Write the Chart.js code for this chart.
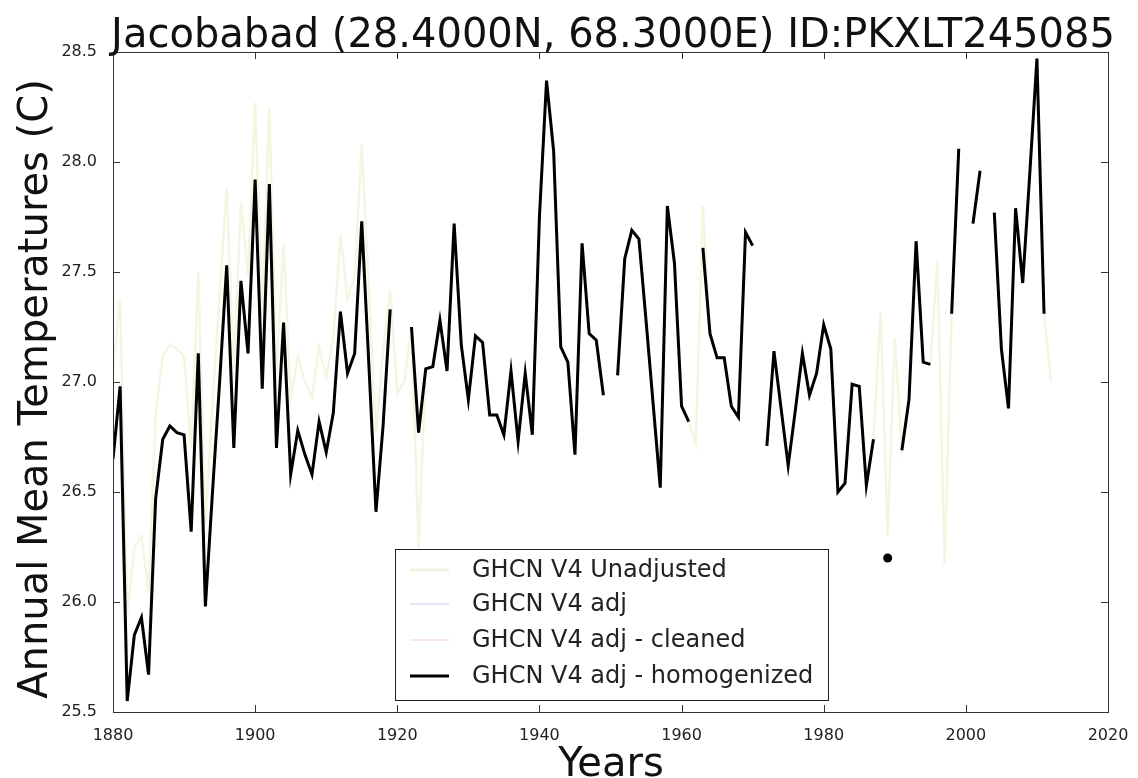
<!DOCTYPE html>
<html>
<head>
<meta charset="utf-8">
<script src="https://cdn.jsdelivr.net/npm/chart.js@4.4.1/dist/chart.umd.min.js"></script>
<style>
html,body{margin:0;padding:0;background:#fff;}
#c{display:block;}
</style>
</head>
<body>
<canvas id="c" width="1138" height="778"></canvas>
<script>
// ---- data ----
const years = [
 1880,1881,1882,1883,1884,1885,1886,1887,1888,1889,
 1890,1891,1892,1893,1894,1895,1896,1897,1898,1899,
 1900,1901,1902,1903,1904,1905,1906,1907,1908,1909,
 1910,1911,1912,1913,1914,1915,1916,1917,1918,1919,
 1920,1921,1922,1923,1924,1925,1926,1927,1928,1929,
 1930,1931,1932,1933,1934,1935,1936,1937,1938,1939,
 1940,1941,1942,1943,1944,1945,1946,1947,1948,1949,
 1950,1951,1952,1953,1954,1955,1956,1957,1958,1959,
 1960,1961,1962,1963,1964,1965,1966,1967,1968,1969,
 1970,1971,1972,1973,1974,1975,1976,1977,1978,1979,
 1980,1981,1982,1983,1984,1985,1986,1987,1988,1989,
 1990,1991,1992,1993,1994,1995,1996,1997,1998,1999,
 2000,2001,2002,2003,2004,2005,2006,2007,2008,2009,
 2010,2011,2012
];

const homogenized = [
 26.65,26.98,25.55,25.85,25.93,25.67,26.47,26.74,26.80,26.77,
 26.76,26.32,27.13,25.98,26.50,27.00,27.53,26.70,27.46,27.13,
 27.92,26.97,27.90,26.70,27.27,26.58,26.78,26.67,26.58,26.82,
 26.68,26.86,27.32,27.04,27.13,27.73,27.08,26.41,26.80,27.33,
 null,null,27.25,26.77,27.06,27.07,27.28,27.05,27.72,27.17,
 26.92,27.21,27.18,26.85,26.85,26.76,27.05,26.73,27.04,26.76,
 27.75,28.37,28.05,27.16,27.09,26.67,27.63,27.22,27.19,26.94,
 null,27.03,27.56,27.69,27.65,27.28,26.90,26.52,27.80,27.54,
 26.89,26.82,null,27.61,27.22,27.11,27.11,26.89,26.84,27.68,
 27.62,null,26.71,27.14,26.88,26.62,26.87,27.13,26.94,27.04,
 27.26,27.15,26.50,26.54,26.99,26.98,26.53,26.74,null,26.20,
 null,26.69,26.92,27.64,27.09,27.08,null,null,27.31,28.06,
 null,27.72,27.96,null,27.77,27.15,26.88,27.79,27.45,27.95,
 28.47,27.31,null
];

const unadjusted = [
 27.05,27.38,25.95,26.25,26.30,26.05,26.85,27.12,27.17,27.15,
 27.12,26.70,27.50,26.35,26.90,27.40,27.88,27.06,27.82,27.48,
 28.27,27.32,28.25,27.04,27.63,26.92,27.12,27.00,26.93,27.16,
 27.02,27.20,27.67,27.38,27.48,28.08,27.42,26.77,27.15,27.42,
 26.95,27.00,27.25,26.25,27.06,27.07,27.28,27.05,27.72,27.17,
 26.92,27.21,27.18,26.85,26.85,26.76,27.05,26.73,27.04,26.76,
 27.75,28.37,28.05,27.16,27.09,26.67,27.63,27.22,27.19,26.94,
 null,27.03,27.56,27.69,27.65,27.28,26.90,26.52,27.80,27.54,
 26.89,26.82,26.72,27.80,27.22,27.11,27.11,26.89,26.84,27.68,
 27.62,null,26.71,27.14,26.88,26.62,26.87,27.13,26.94,27.04,
 27.26,27.15,26.50,26.54,26.99,26.98,26.53,26.74,27.32,26.30,
 27.20,26.69,26.92,27.64,27.09,27.08,27.55,26.17,27.31,28.06,
 null,27.72,27.96,null,27.77,27.15,26.88,27.79,27.45,27.95,
 28.47,27.31,27.00
];

// adj and cleaned series lie under the homogenized line in the picture
const adjusted = homogenized.slice();
const cleaned = homogenized.slice();

const seriesLabels = ['GHCN V4 Unadjusted','GHCN V4 adj','GHCN V4 adj - cleaned','GHCN V4 adj - homogenized'];
const xTicks = [1880,1900,1920,1940,1960,1980,2000,2020];
const yTicks = [25.5,26.0,26.5,27.0,27.5,28.0,28.5];
const titleText = 'Jacobabad (28.4000N, 68.3000E) ID:PKXLT245085';
const xTitle = 'Years';
const yTitle = 'Annual Mean Temperatures (C)';

// ---- build chart ----
const pts = vals => years.map((yr,i)=>({x:yr,y:vals[i]}));
const FONT = "'DejaVu Sans', sans-serif";

function isolatedRadius(ctx){
  const d = ctx.dataset.data, i = ctx.dataIndex;
  if (d[i].y == null) return 0;
  const prev = i>0 ? d[i-1].y : null, next = i<d.length-1 ? d[i+1].y : null;
  return (prev==null && next==null) ? 4.5 : 0;
}

const framePlugin = {
  id:'frame',
  afterDraw(chart){
    const {ctx, chartArea:a, scales} = chart;
    ctx.save();
    // frame
    ctx.strokeStyle = '#333'; ctx.lineWidth = 1;
    ctx.strokeRect(a.left+0.5, a.top+0.5, a.right-a.left, a.bottom-a.top);
    // inward ticks on all sides
    const L = 7;
    ctx.beginPath();
    xTicks.forEach(t=>{
      const x = Math.round(scales.x.getPixelForValue(t))+0.5;
      ctx.moveTo(x,a.bottom); ctx.lineTo(x,a.bottom-L);
      ctx.moveTo(x,a.top); ctx.lineTo(x,a.top+L);
    });
    yTicks.forEach(t=>{
      const y = Math.round(scales.y.getPixelForValue(t))+0.5;
      ctx.moveTo(a.left,y); ctx.lineTo(a.left+L,y);
      ctx.moveTo(a.right,y); ctx.lineTo(a.right-L,y);
    });
    ctx.stroke();
    // titles
    ctx.fillStyle = '#111';
    ctx.textAlign = 'center';
    ctx.textBaseline = 'alphabetic';
    ctx.font = '40px ' + FONT;
    ctx.fillText(titleText, 613, 47);
    ctx.fillText(xTitle, 611, 776);
    ctx.save();
    ctx.translate(47, 389);
    ctx.rotate(-Math.PI/2);
    ctx.fillText(yTitle, 0, 0);
    ctx.restore();
    // legend
    const bx=395, by=549, bw=433, bh=151;
    ctx.fillStyle='#fff';
    ctx.fillRect(bx,by,bw,bh);
    ctx.strokeStyle='#222'; ctx.lineWidth=1;
    ctx.strokeRect(bx+0.5,by+0.5,bw,bh);
    ctx.font = '24px ' + FONT;
    ctx.textAlign='left'; ctx.textBaseline='middle';
    const rows=[570,604,640,676];
    chart.data.datasets.forEach((ds,i)=>{
      ctx.strokeStyle = ds.legendColor || ds.borderColor;
      ctx.lineWidth = ds.borderWidth;
      ctx.beginPath(); ctx.moveTo(410,rows[i]); ctx.lineTo(449,rows[i]); ctx.stroke();
      ctx.fillStyle='#222';
      ctx.fillText(ds.label, 472, rows[i]+1);
    });
    ctx.restore();
  }
};

new Chart(document.getElementById('c'), {
  type:'line',
  data:{
    datasets:[
      {label:seriesLabels[0], data:pts(unadjusted), borderColor:'#f5f5e2', legendColor:'#f2f2dc', borderWidth:2.5, pointRadius:0, spanGaps:false, order:4},
      {label:seriesLabels[1], data:pts(adjusted), borderColor:'#dcdcfa', borderWidth:1.5, pointRadius:0, spanGaps:false, order:3},
      {label:seriesLabels[2], data:pts(cleaned), borderColor:'#f6dce2', borderWidth:1.5, pointRadius:0, spanGaps:false, order:2},
      {label:seriesLabels[3], data:pts(homogenized), borderColor:'#000', backgroundColor:'#000', borderWidth:3, pointRadius:isolatedRadius, pointBorderWidth:0, pointBackgroundColor:'#000', spanGaps:false, order:1}
    ]
  },
  options:{
    responsive:false,
    animation:false,
    events:[],
    layout:{padding:{top:52,right:30,left:0,bottom:0}},
    plugins:{legend:{display:false}, title:{display:false}, tooltip:{enabled:false}},
    elements:{line:{tension:0, borderJoinStyle:'miter', borderCapStyle:'butt'}},
    scales:{
      x:{type:'linear', min:1880, max:2020,
         afterBuildTicks(s){ s.ticks = xTicks.map(v=>({value:v})); },
         afterFit(s){ s.height = 66; },
         grid:{display:false}, border:{display:false},
         ticks:{font:{family:FONT,size:16}, color:'#222', padding:6, maxRotation:0, callback:v=>String(v)}},
      y:{type:'linear', min:25.5, max:28.5,
         afterBuildTicks(s){ s.ticks = yTicks.map(v=>({value:v})); },
         afterFit(s){ s.width = 113; },
         grid:{display:false}, border:{display:false},
         ticks:{font:{family:FONT,size:16}, color:'#222', padding:8, callback:v=>Number(v).toFixed(1)}}
    }
  },
  plugins:[framePlugin]
});
</script>
</body>
</html>
